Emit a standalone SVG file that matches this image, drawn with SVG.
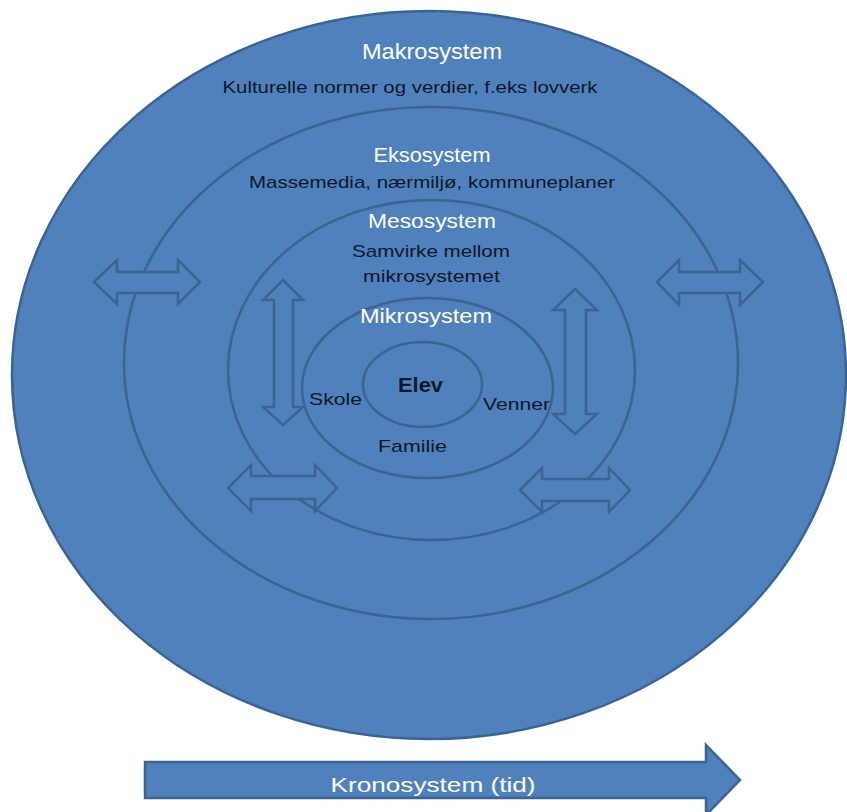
<svg xmlns="http://www.w3.org/2000/svg" width="847" height="812" viewBox="0 0 847 812">
<style>
.shape{fill:#4F81BD;stroke:#3A6494;stroke-width:2.5}
.ring{fill:none;stroke:#3D6390;stroke-width:2.5}
.arr{fill:#4F81BD;stroke:#3D6390;stroke-width:2.5;stroke-linejoin:miter}
.w{fill:#FFFFFF;font-family:"Liberation Sans",Arial,sans-serif;text-anchor:middle}
.b{fill:#101828;font-family:"Liberation Sans",Arial,sans-serif;text-anchor:middle}
</style>
<rect width="847" height="812" fill="#FFFFFF"/>
<g id="makrosystem">
<ellipse class="shape" cx="429" cy="375" rx="417" ry="364"/>
<text class="w" x="432" y="59" font-size="22" textLength="140" lengthAdjust="spacingAndGlyphs">Makrosystem</text>
<text class="b" x="410" y="93" font-size="17" textLength="375" lengthAdjust="spacingAndGlyphs">Kulturelle normer og verdier, f.eks lovverk</text>
</g>
<g id="eksosystem">
<ellipse class="ring" cx="431" cy="363" rx="307" ry="256"/>
<text class="w" x="432" y="162" font-size="20" textLength="117" lengthAdjust="spacingAndGlyphs">Eksosystem</text>
<text class="b" x="432" y="188" font-size="17" textLength="366" lengthAdjust="spacingAndGlyphs">Massemedia, nærmiljø, kommuneplaner</text>
</g>
<g id="mesosystem">
<ellipse class="ring" cx="431.5" cy="370" rx="203.5" ry="170"/>
<text class="w" x="432" y="228" font-size="20" textLength="128" lengthAdjust="spacingAndGlyphs">Mesosystem</text>
<text class="b" x="431" y="257" font-size="17" textLength="158" lengthAdjust="spacingAndGlyphs">Samvirke mellom</text>
<text class="b" x="431.5" y="282" font-size="17" textLength="137" lengthAdjust="spacingAndGlyphs">mikrosystemet</text>
</g>
<g id="mikrosystem">
<ellipse class="ring" cx="427.5" cy="388" rx="125.5" ry="90"/>
<text class="w" x="426" y="323" font-size="20" textLength="132" lengthAdjust="spacingAndGlyphs">Mikrosystem</text>
<text class="b" x="335.5" y="405" font-size="17" textLength="53" lengthAdjust="spacingAndGlyphs">Skole</text>
<text class="b" x="516.5" y="410" font-size="17" textLength="67" lengthAdjust="spacingAndGlyphs">Venner</text>
<text class="b" x="412.5" y="452" font-size="17" textLength="69" lengthAdjust="spacingAndGlyphs">Familie</text>
</g>
<g id="elev">
<ellipse class="ring" cx="422.5" cy="384.5" rx="59.5" ry="42.5"/>
<text class="b" x="420.5" y="392" font-size="21" font-weight="bold" textLength="45" lengthAdjust="spacingAndGlyphs">Elev</text>
</g>
<g id="connectors">
<!-- outer left horizontal -->
<path class="arr" d="M94,282 L117,260 L117,272 L178,272 L178,260 L200,282 L178,304 L178,293 L117,293 L117,304 Z"/>
<!-- outer right horizontal -->
<path class="arr" d="M657,282 L679,260 L679,272 L740,272 L740,260 L763,282 L740,305 L740,293 L679,293 L679,305 Z"/>
<!-- left vertical -->
<path class="arr" d="M283,280 L303,300 L293,300 L293,407 L303,407 L283,425 L263,407 L274,407 L274,300 L263,300 Z"/>
<!-- right vertical -->
<path class="arr" d="M575,289 L597,310 L586,310 L586,414 L597,414 L575,434 L553,414 L565,414 L565,310 L553,310 Z"/>
<!-- bottom left horizontal -->
<path class="arr" d="M228,488 L251,465 L251,476 L315,476 L315,465 L337,488 L315,511 L315,499 L251,499 L251,511 Z"/>
<!-- bottom right horizontal -->
<path class="arr" d="M520,490 L542,468 L542,479 L609,479 L609,468 L630,490 L609,512 L609,501 L542,501 L542,512 Z"/>
</g>
<g id="kronosystem">
<path class="shape" d="M145,762 L706,762 L706,745 L740,780 L706,815 L706,798 L145,798 Z"/>
<text class="w" x="433" y="792" font-size="21" textLength="205" lengthAdjust="spacingAndGlyphs">Kronosystem (tid)</text>
</g>
</svg>
